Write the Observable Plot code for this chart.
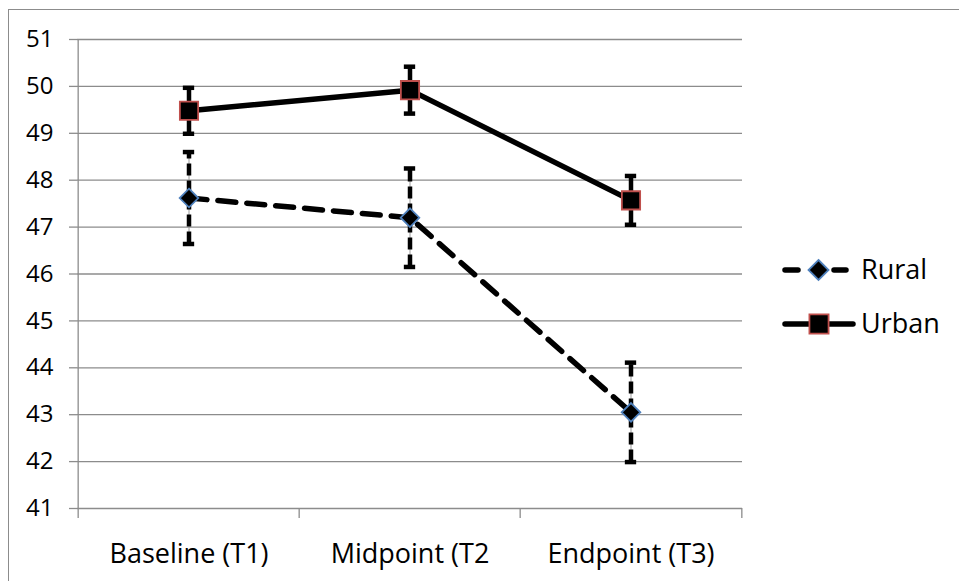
<!DOCTYPE html>
<html>
<head>
<meta charset="utf-8">
<script src="https://cdn.jsdelivr.net/npm/d3@7"></script>
<script src="https://cdn.jsdelivr.net/npm/@observablehq/plot@0.6"></script>
<style>
  html, body { margin: 0; padding: 0; background: white; }
  #wrap { position: relative; width: 959px; height: 581px; overflow: hidden; }
  #border { position: absolute; left: 8px; top: 9px; right: -10px; bottom: -10px; border-top: 1.5px solid #8c8c8c; border-left: 1.5px solid #8c8c8c; pointer-events: none; }
</style>
</head>
<body>
<div id="wrap"><div id="border"></div></div>
<script>
const categories = ["Baseline (T1)", "Midpoint (T2", "Endpoint (T3)"];
const ruralMean = [47.62, 47.20, 43.05];
const ruralErr  = [0.98, 1.05, 1.06];
const urbanMean = [49.48, 49.92, 47.57];
const urbanErr  = [0.49, 0.50, 0.52];
const yTicks = [41, 42, 43, 44, 45, 46, 47, 48, 49, 50, 51];
const seriesNames = ["Rural", "Urban"];

const rural = categories.map((c, i) => ({cat: c, v: ruralMean[i], lo: ruralMean[i] - ruralErr[i], hi: ruralMean[i] + ruralErr[i]}));
const urban = categories.map((c, i) => ({cat: c, v: urbanMean[i], lo: urbanMean[i] - urbanErr[i], hi: urbanMean[i] + urbanErr[i]}));

const W = 959, H = 581, mL = 77, mR = 217, mT = 39, mB = 73;
const bw = (W - mL - mR) / categories.length;
const capInset = (bw - 12) / 2;
const grey = "#8c8c8c";
const font = "Open Sans";

const chart = Plot.plot({
  width: W, height: H,
  marginLeft: mL, marginRight: mR, marginTop: mT, marginBottom: mB,
  x: {domain: categories, padding: 0, label: null},
  y: {domain: [41, 51], label: null},
  style: {fontFamily: font, background: "white", color: "black", overflow: "visible"},
  marks: [
    Plot.gridY(yTicks, {stroke: grey, strokeOpacity: 1, strokeWidth: 1.3}),
    Plot.axisY(yTicks, {tickSize: 8, tickPadding: 16, fontSize: 24, stroke: grey, strokeOpacity: 1, strokeWidth: 1.3, fill: "black", label: null}),
    Plot.axisX({tickSize: 0, tickPadding: 35, fontSize: 27, fill: "black", label: null}),
    // y-axis line (left boundary) with tick below
    Plot.ruleX([categories[0]], {x: d => d, dx: -bw / 2, stroke: grey, strokeWidth: 1.3, insetBottom: -10}),
    // category boundary ticks
    Plot.ruleX(categories.slice(1), {x: d => d, dx: -bw / 2, y1: () => 41, y2: () => 41, stroke: grey, strokeWidth: 1.3, insetBottom: -10}),
    Plot.ruleX([categories[categories.length - 1]], {x: d => d, dx: bw / 2, y1: () => 41, y2: () => 41, stroke: grey, strokeWidth: 1.3, insetBottom: -10}),
    // rural error bars
    Plot.ruleX(rural, {x: "cat", y1: "lo", y2: "hi", stroke: "#9a9a9a", strokeWidth: 1}),
    Plot.ruleX(rural, {x: "cat", y1: "lo", y2: "hi", stroke: "black", strokeWidth: 4.5, strokeDasharray: "12,5"}),
    Plot.tickY(rural, {x: "cat", y: "hi", stroke: "black", strokeWidth: 4.5, insetLeft: capInset, insetRight: capInset}),
    Plot.tickY(rural, {x: "cat", y: "lo", stroke: "black", strokeWidth: 4.5, insetLeft: capInset, insetRight: capInset}),
    // urban error bars
    Plot.ruleX(urban, {x: "cat", y1: "lo", y2: "hi", stroke: "black", strokeWidth: 4.5}),
    Plot.tickY(urban, {x: "cat", y: "hi", stroke: "black", strokeWidth: 4.5, insetLeft: capInset, insetRight: capInset}),
    Plot.tickY(urban, {x: "cat", y: "lo", stroke: "black", strokeWidth: 4.5, insetLeft: capInset, insetRight: capInset}),
    // lines
    Plot.line(rural, {x: "cat", y: "v", stroke: "black", strokeWidth: 5.5, strokeDasharray: "18,11", strokeLinecap: "round"}),
    Plot.line(urban, {x: "cat", y: "v", stroke: "black", strokeWidth: 5.5}),
    // markers
    Plot.dot(rural, {x: "cat", y: "v", symbol: "diamond2", r: 8.4, fill: "black", stroke: "#4f81bd", strokeWidth: 1.8}),
    Plot.dot(urban, {x: "cat", y: "v", symbol: "square", r: 10.3, fill: "black", stroke: "#c0504d", strokeWidth: 1.8})
  ]
});

const svg = d3.select(chart);
// legend
const lg = svg.append("g").attr("font-family", font).attr("font-size", 27).attr("text-anchor", "start").attr("fill", "black");
// Rural
lg.append("line").attr("x1", 785).attr("x2", 798).attr("y1", 270).attr("y2", 270).attr("stroke", "black").attr("stroke-width", 5.5).attr("stroke-linecap", "round");
lg.append("line").attr("x1", 834).attr("x2", 846).attr("y1", 270).attr("y2", 270).attr("stroke", "black").attr("stroke-width", 5.5).attr("stroke-linecap", "round");
lg.append("path").attr("d", d3.symbol(d3.symbolDiamond2, Math.PI * 9 * 9)()).attr("transform", "translate(818.5,270)").attr("fill", "black").attr("stroke", "#4f81bd").attr("stroke-width", 1.8);
lg.append("text").attr("x", 861).attr("y", 279).text(seriesNames[0]);
// Urban
lg.append("line").attr("x1", 785).attr("x2", 853).attr("y1", 324).attr("y2", 324).attr("stroke", "black").attr("stroke-width", 5.5).attr("stroke-linecap", "round");
lg.append("path").attr("d", d3.symbol(d3.symbolSquare, Math.PI * 10.8 * 10.8)()).attr("transform", "translate(819,324)").attr("fill", "black").attr("stroke", "#c0504d").attr("stroke-width", 1.8);
lg.append("text").attr("x", 861).attr("y", 333).text(seriesNames[1]);

document.getElementById("wrap").prepend(chart);
</script>
</body>
</html>
